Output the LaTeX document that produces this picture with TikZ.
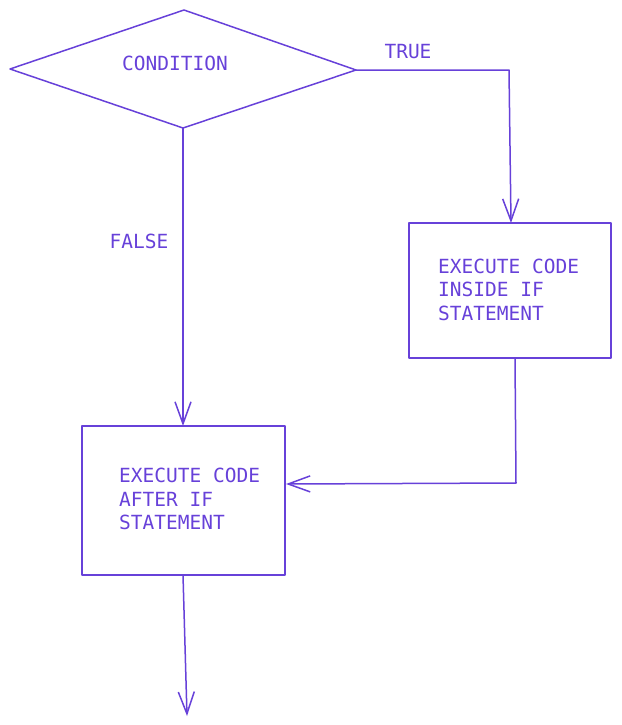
\documentclass[tikz,border=0pt]{standalone}
\usepackage{fontspec}
\setmonofont{DejaVu Sans Mono}
\usetikzlibrary{arrows.meta}
\definecolor{ink}{HTML}{6741D9}
\begin{document}
\begin{tikzpicture}[x=1pt,y=-1pt,
  line/.style={draw=ink,line width=1.5pt,line join=round,line cap=round},
  arr/.style={line,-{Straight Barb[length=22pt,width=16pt,line width=1.5pt]}},
  lbl/.style={text=ink,font=\ttfamily\fontsize{19.5}{23.5}\selectfont,inner sep=0pt},
  blk/.style={lbl,align=left,anchor=north west}]
\useasboundingbox (0,0) rectangle (621,725);
% diamond
\coordinate (dl) at (10,69);
\coordinate (dt) at (184,10);
\coordinate (dr) at (356,70);
\coordinate (db) at (183,128);
\draw[line] (dl) -- (dt) -- (dr) -- (db) -- cycle;
\node[lbl] (cond) at (175,63) {CONDITION};
% boxes
\draw[line] (409,223) rectangle (611,358);
\coordinate (b1t) at (511,223);
\coordinate (b1b) at (515,358);
\draw[line] (82,426) rectangle (285,575);
\coordinate (b2t) at (183,426);
\coordinate (b2r) at (286,484);
\coordinate (b2b) at (183,575);
\node[blk] (t1) at (438,258.5) {EXECUTE CODE\\INSIDE IF\\STATEMENT};
\node[blk] (t2) at (119,468) {EXECUTE CODE\\AFTER IF\\STATEMENT};
% connectors
\coordinate (c1) at (509,70);
\draw[arr] (dr) -- (c1) -- (b1t);
\node[lbl] (true) at (408,52) {TRUE};
\draw[arr] (db) -- (b2t);
\node[lbl] (false) at (139,241) {FALSE};
\coordinate (c2) at (516,483);
\draw[arr] (b1b) -- (c2) -- (b2r);
\coordinate (endp) at (187,716);
\draw[arr] (b2b) -- (endp);
\end{tikzpicture}
\end{document}
